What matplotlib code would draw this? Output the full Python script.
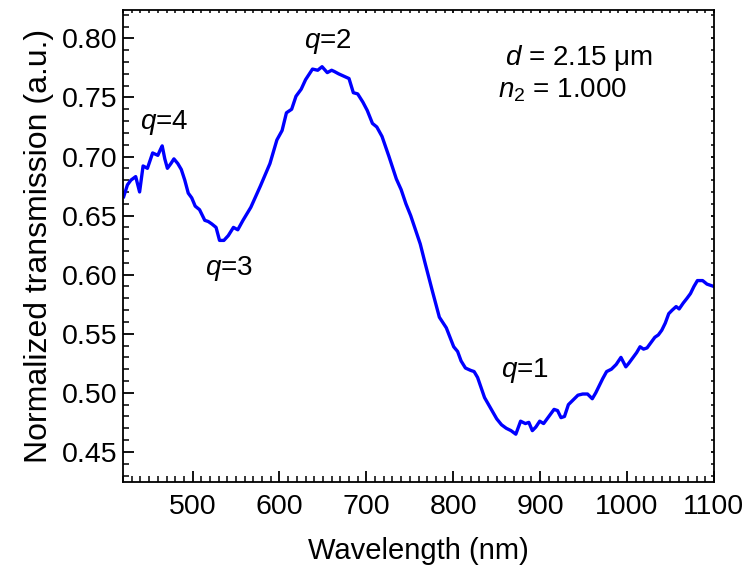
import matplotlib
matplotlib.use("Agg")
import matplotlib.pyplot as plt
from matplotlib.ticker import MultipleLocator

plt.rcParams['font.family'] = ['Liberation Sans', 'DejaVu Sans']
plt.rcParams['mathtext.fontset'] = 'custom'
plt.rcParams['mathtext.rm'] = 'Liberation Sans'
plt.rcParams['mathtext.it'] = 'Liberation Sans:italic'

wavelength = [420.7, 425, 429, 434.5, 439, 443, 448, 454, 460, 463, 465, 468, 471, 475, 478.5,
              483, 487, 491, 495, 499, 503, 508, 514, 518, 522, 527, 531, 536, 541, 547,
              552, 558, 567, 578, 589, 597, 603, 608, 614, 619, 625, 630, 638, 644, 649,
              655, 660, 663, 668, 674, 680, 685, 690, 696, 701, 707, 712, 718, 726, 734.5,
              740, 745.5, 751, 756.5, 762, 767.5, 776, 784, 792, 800.5, 805, 809, 814, 820,
              824, 828, 836, 844.5, 850, 855.5, 861, 866.5, 872, 877.5, 883, 887, 891, 895,
              899.5, 904, 908, 912, 916, 920, 924, 928, 932.5, 938, 943.5, 949, 954.5, 960,
              964, 968, 972, 976.5, 982, 987.5, 993, 998.6, 1002, 1007, 1011, 1015, 1019,
              1023, 1027, 1032, 1036, 1040, 1044, 1048, 1052, 1056.5, 1060, 1064.7, 1069,
              1073, 1077, 1081, 1087, 1092, 1096, 1100]
transmission = [0.666, 0.676, 0.680, 0.683, 0.670, 0.692, 0.690, 0.703, 0.701, 0.706, 0.709,
                0.698, 0.690, 0.694, 0.698, 0.694, 0.689, 0.680, 0.669, 0.665, 0.658, 0.655,
                0.646, 0.645, 0.643, 0.640, 0.629, 0.629, 0.633, 0.640, 0.638, 0.646, 0.657,
                0.675, 0.694, 0.714, 0.722, 0.737, 0.740, 0.751, 0.757, 0.765, 0.774, 0.773,
                0.776, 0.771, 0.773, 0.772, 0.770, 0.768, 0.766, 0.754, 0.753, 0.746, 0.739,
                0.728, 0.725, 0.717, 0.700, 0.681, 0.672, 0.660, 0.650, 0.638, 0.626, 0.610,
                0.586, 0.564, 0.555, 0.539, 0.535, 0.527, 0.521, 0.519, 0.518, 0.513, 0.496,
                0.485, 0.478, 0.473, 0.470, 0.468, 0.465, 0.476, 0.474, 0.475, 0.468, 0.471,
                0.476, 0.474, 0.478, 0.482, 0.486, 0.485, 0.479, 0.480, 0.490, 0.494, 0.498,
                0.499, 0.499, 0.495, 0.500, 0.506, 0.512, 0.518, 0.520, 0.524, 0.530, 0.522,
                0.525, 0.530, 0.534, 0.539, 0.537, 0.538, 0.542, 0.547, 0.549, 0.553, 0.559,
                0.567, 0.570, 0.573, 0.571, 0.576, 0.580, 0.584, 0.590, 0.595, 0.595, 0.592,
                0.591, 0.590]

x_ticks = [500, 600, 700, 800, 900, 1000, 1100]
y_ticks = [0.45, 0.50, 0.55, 0.60, 0.65, 0.70, 0.75, 0.80]

fig = plt.figure(figsize=(7.46, 5.71), dpi=100)
ax = fig.add_axes([0.165, 0.156, 0.792, 0.8265])

ax.plot(wavelength, transmission, color='#0000ff', lw=2.4, solid_joinstyle='round')

ax.set_xlim(420, 1100)
ax.set_ylim(0.4246, 0.824)
ax.set_xticks(x_ticks)
ax.set_yticks(y_ticks)
ax.set_yticklabels([f"{v:.2f}" for v in y_ticks])
ax.xaxis.set_minor_locator(MultipleLocator(10))
ax.yaxis.set_minor_locator(MultipleLocator(0.01))

ax.tick_params(axis='both', which='major', direction='in', length=8, width=1.3,
               labelsize=20.5)
ax.tick_params(axis='x', which='major', pad=9)
ax.tick_params(axis='y', which='major', pad=4)
ax.tick_params(axis='both', which='minor', direction='in', length=4, width=1.1)
ax.tick_params(axis='both', which='both', top=True, right=True)

for sp in ax.spines.values():
    sp.set_linewidth(1.3)

# very short ticks on top/right
for tick in ax.xaxis.get_major_ticks() + ax.xaxis.get_minor_ticks():
    tick.tick2line.set_markersize(2)
for tick in ax.yaxis.get_major_ticks() + ax.yaxis.get_minor_ticks():
    tick.tick2line.set_markersize(2)

ax.set_xlabel('Wavelength (nm)', fontsize=21, labelpad=12)
ax.set_ylabel('Normalized transmission (a.u.)', fontsize=23, labelpad=6)

fs = 20
ax.text(467, 0.729, r'$\mathit{q}$=4', fontsize=fs, ha='center', va='center')
ax.text(656, 0.797, r'$\mathit{q}$=2', fontsize=fs, ha='center', va='center')
ax.text(542, 0.605, r'$\mathit{q}$=3', fontsize=fs, ha='center', va='center')
ax.text(882, 0.519, r'$\mathit{q}$=1', fontsize=fs, ha='center', va='center')
ax.text(859, 0.783, r'$\mathit{d}$ = 2.15 μm', fontsize=fs, ha='left', va='center')
ax.text(851, 0.756, r'$\mathit{n}_2$ = 1.000', fontsize=fs, ha='left', va='center')

fig.savefig('out.png', dpi=100)
